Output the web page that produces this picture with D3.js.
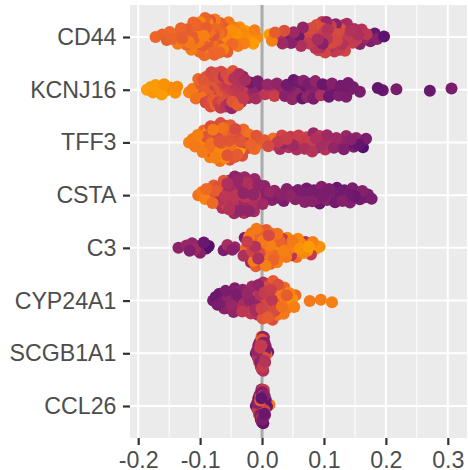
<!DOCTYPE html>
<html>
<head>
<meta charset="utf-8">
<script src="https://cdnjs.cloudflare.com/ajax/libs/d3/7.8.5/d3.min.js"></script>
<style>
  html, body { margin: 0; padding: 0; background: #fff; }
  svg { display: block; }
  text { font-family: "Liberation Sans", Arial, sans-serif; fill: #4d4d4d; }
</style>
</head>
<body>
<svg id="chart"></svg>
<script>
var genes = ['CD44', 'KCNJ16', 'TFF3', 'CSTA', 'C3', 'CYP24A1', 'SCGB1A1', 'CCL26'];
var xTicks = [-0.2, -0.1, 0, 0.1, 0.2, 0.3];
var xMinor = [-0.15, -0.05, 0.05, 0.15, 0.25];

// shap value of each cell
var shapCD44 = [
  -.172,-.161,-.154,-.149,-.146,-.139,-.136,-.131,-.129,-.124,
  -.122,-.121,-.118,-.115,-.114,-.111,-.110,-.108,-.107,-.105,
  -.104,-.102,-.101,-.100,-.099,-.098,-.097,-.096,-.095,-.094,
  -.093,-.092,-.091,-.090,-.089,-.088,-.087,-.086,-.085,-.084,
  -.083,-.082,-.081,-.080,-.079,-.078,-.077,-.076,-.075,-.074,
  -.073,-.072,-.071,-.070,-.069,-.068,-.066,-.065,-.063,-.061,
  -.060,-.058,-.056,-.054,-.052,-.050,-.048,-.045,-.043,-.041,
  -.039,-.036,-.035,-.032,-.029,-.027,-.024,-.019,-.014,-.012,
  -.008,.012,.016,.021,.026,.029,.033,.036,.039,.043,
  .047,.051,.055,.059,.063,.066,.069,.073,.076,.079,
  .082,.084,.086,.088,.090,.092,.094,.096,.098,.100,
  .102,.104,.105,.107,.109,.111,.113,.115,.117,.119,
  .121,.123,.125,.127,.129,.132,.134,.137,.140,.143,
  .146,.149,.152,.155,.158,.161,.165,.169,.175,.182,.186,.197,
  .091,.097,.103,.106,.110,.114,.118,.122,.126,.131,.135,.101
];
var featCD44 = [
  .65,.64,.63,.66,.64,.65,.70,.64,.63,.72,
  .66,.63,.70,.64,.71,.65,.63,.72,.66,.64,
  .70,.62,.65,.73,.66,.63,.70,.64,.61,.72,
  .66,.64,.70,.63,.65,.73,.62,.68,.64,.60,
  .70,.65,.63,.72,.66,.60,.64,.70,.62,.66,
  .73,.64,.61,.68,.65,.62,.70,.64,.72,.60,
  .66,.74,.63,.70,.62,.75,.66,.72,.63,.76,
  .70,.76,.66,.74,.72,.78,.74,.76,.78,.72,
  .74,.78,.72,.62,.60,.45,.40,.58,.42,.30,
  .34,.40,.56,.28,.44,.36,.52,.55,.50,.56,
  .30,.54,.47,.58,.42,.52,.44,.56,.34,.50,
  .54,.38,.48,.58,.45,.52,.56,.44,.50,.34,
  .55,.44,.52,.58,.46,.48,.54,.42,.50,.45,
  .52,.44,.50,.44,.34,.46,.38,.48,.32,.26,.34,.22,
  .54,.50,.56,.46,.52,.55,.48,.56,.50,.54,.46,.52
];

var shapKCNJ16 = [
  -.186,-.180,-.176,-.172,-.168,-.165,-.162,-.158,-.155,-.148,
  -.140,-.137,-.118,-.112,-.107,-.103,-.101,-.099,-.097,-.095,
  -.094,-.092,-.091,-.090,-.089,-.088,-.087,-.086,-.085,-.084,
  -.083,-.082,-.081,-.080,-.079,-.078,-.077,-.076,-.075,-.074,
  -.073,-.072,-.071,-.070,-.069,-.068,-.067,-.066,-.065,-.064,
  -.063,-.062,-.061,-.060,-.059,-.058,-.057,-.056,-.054,-.053,
  -.052,-.050,-.049,-.047,-.046,-.044,-.042,-.040,-.038,-.036,
  -.034,-.031,-.028,-.025,-.022,-.019,-.016,-.013,-.010,-.007,
  -.004,.001,.005,.009,.012,.016,.020,.024,.029,.033,
  .037,.040,.043,.046,.049,.051,.053,.055,.057,.059,
  .061,.063,.065,.067,.069,.071,.073,.075,.077,.080,
  .083,.086,.089,.092,.095,.098,.101,.104,.108,.113,
  .117,.120,.124,.127,.130,.133,.136,.139,.142,.147,
  .158,.187,.195,.217,.271,.306,
  -.055,-.051,-.048,-.045,-.043,-.041,-.039,-.037,-.035,-.033,-.030,-.027
];
var featKCNJ16 = [
  .78,.79,.77,.78,.76,.79,.78,.76,.77,.74,
  .76,.74,.72,.70,.68,.66,.70,.62,.68,.60,
  .58,.62,.55,.60,.58,.64,.56,.60,.54,.62,
  .58,.55,.60,.52,.62,.56,.58,.54,.64,.56,
  .50,.60,.54,.58,.52,.60,.50,.56,.62,.52,
  .58,.46,.60,.54,.48,.56,.62,.50,.44,.58,
  .46,.52,.38,.60,.46,.34,.50,.44,.54,.40,
  .48,.36,.44,.50,.40,.28,.46,.36,.42,.30,
  .46,.30,.48,.38,.28,.44,.52,.36,.30,.38,
  .34,.28,.40,.32,.36,.26,.34,.30,.37,.28,
  .33,.36,.25,.34,.31,.27,.36,.30,.26,.34,
  .30,.36,.28,.33,.44,.26,.34,.30,.27,.33,
  .30,.26,.32,.29,.33,.27,.31,.29,.32,.30,
  .30,.24,.26,.30,.26,.30,
  .56,.50,.60,.46,.54,.48,.62,.44,.52,.46,.50,.42
];

var shapTFF3 = [
  -.118,-.112,-.108,-.104,-.101,-.098,-.096,-.094,-.092,-.090,
  -.088,-.087,-.086,-.085,-.084,-.083,-.082,-.081,-.080,-.079,
  -.078,-.077,-.076,-.075,-.074,-.073,-.072,-.071,-.070,-.069,
  -.068,-.067,-.066,-.065,-.064,-.063,-.062,-.061,-.060,-.059,
  -.058,-.057,-.056,-.055,-.054,-.053,-.052,-.051,-.050,-.049,
  -.048,-.047,-.046,-.045,-.044,-.043,-.042,-.041,-.040,-.038,
  -.036,-.034,-.032,-.030,-.028,-.026,-.024,-.021,-.018,-.015,
  -.012,-.009,-.005,.004,.010,.018,.022,.026,.029,.032,
  .036,.040,.043,.046,.050,.053,.056,.059,.063,.066,
  .069,.072,.075,.078,.081,.083,.085,.087,.090,.093,
  .096,.099,.102,.105,.108,.112,.116,.120,.124,.128,
  .132,.136,.140,.144,.148,.152,.156,.160,.163,.168
];
var featTFF3 = [
  .72,.71,.70,.72,.68,.73,.70,.66,.72,.60,
  .70,.74,.68,.62,.72,.58,.68,.72,.60,.70,
  .56,.68,.72,.62,.66,.58,.70,.62,.74,.60,
  .68,.58,.62,.72,.60,.68,.56,.62,.74,.60,
  .58,.66,.60,.56,.72,.60,.58,.62,.68,.56,
  .60,.62,.58,.68,.60,.56,.64,.58,.62,.56,
  .80,.60,.58,.66,.56,.64,.58,.68,.64,.60,
  .66,.60,.64,.62,.56,.68,.46,.50,.42,.54,
  .38,.52,.46,.50,.40,.54,.44,.52,.40,.50,
  .44,.54,.42,.52,.46,.38,.50,.44,.36,.48,
  .42,.34,.46,.40,.32,.44,.36,.40,.30,.36,
  .32,.38,.26,.34,.30,.36,.24,.28,.20,.30
];

var shapCSTA = [
  -.103,-.097,-.092,-.090,-.086,-.083,-.080,-.078,-.076,-.074,
  -.072,-.070,-.068,-.066,-.064,-.062,-.060,-.059,-.058,-.056,
  -.055,-.054,-.053,-.052,-.051,-.050,-.049,-.048,-.047,-.046,
  -.045,-.044,-.043,-.042,-.041,-.040,-.039,-.038,-.037,-.036,
  -.035,-.034,-.033,-.032,-.031,-.030,-.029,-.028,-.027,-.026,
  -.025,-.024,-.023,-.022,-.021,-.020,-.019,-.018,-.017,-.016,
  -.015,-.014,-.013,-.012,-.011,-.010,-.008,-.006,-.004,-.002,
  .001,.004,.008,.012,.016,.020,.026,.030,.035,.040,
  .045,.050,.054,.058,.062,.066,.069,.072,.075,.078,
  .081,.084,.087,.090,.093,.096,.099,.102,.105,.108,
  .112,.115,.118,.121,.124,.127,.130,.133,.136,.139,
  .142,.146,.150,.154,.158,.162,.166,.171,.177
];
var featCSTA = [
  .68,.70,.72,.66,.70,.60,.66,.62,.56,.62,
  .50,.58,.46,.54,.44,.60,.48,.38,.52,.44,
  .56,.40,.46,.36,.50,.42,.58,.38,.46,.54,
  .40,.36,.48,.42,.60,.38,.44,.50,.36,.42,
  .46,.38,.44,.52,.40,.36,.44,.38,.48,.42,
  .36,.44,.40,.50,.36,.42,.38,.46,.34,.40,
  .44,.36,.42,.38,.46,.34,.40,.36,.42,.34,
  .40,.36,.32,.38,.34,.36,.32,.35,.30,.33,
  .36,.30,.34,.31,.35,.30,.34,.28,.33,.30,
  .34,.29,.33,.30,.27,.33,.30,.28,.34,.30,
  .27,.32,.29,.25,.31,.28,.33,.26,.31,.28,
  .32,.30,.27,.32,.29,.33,.30,.31,.30
];

var shapC3 = [
  -.135,-.122,-.117,-.113,-.108,-.103,-.100,-.094,-.090,-.086,
  -.062,-.056,-.048,-.044,-.030,-.028,-.026,-.024,-.022,-.021,
  -.020,-.019,-.018,-.017,-.016,-.015,-.014,-.013,-.012,-.011,
  -.010,-.009,-.008,-.007,-.006,-.005,-.004,-.003,-.002,-.001,
  .000,.001,.002,.003,.004,.005,.006,.007,.008,.009,
  .010,.011,.012,.013,.014,.015,.016,.017,.018,.019,
  .020,.022,.024,.025,.027,.029,.031,.033,.035,.037,
  .039,.041,.043,.045,.047,.049,.051,.053,.056,.058,
  .061,.064,.067,.070,.073,.076,.079,.082,.086,.093
];
var featC3 = [
  .34,.38,.32,.36,.40,.28,.33,.26,.22,.20,
  .30,.42,.34,.38,.44,.30,.66,.52,.36,.70,
  .56,.64,.40,.68,.54,.60,.70,.50,.66,.46,
  .62,.70,.56,.64,.44,.68,.58,.72,.60,.66,
  .52,.70,.58,.64,.68,.56,.72,.62,.68,.60,
  .70,.56,.66,.72,.62,.68,.58,.72,.64,.70,
  .66,.60,.72,.68,.74,.64,.70,.50,.72,.66,
  .70,.74,.68,.72,.48,.70,.76,.72,.68,.74,
  .76,.72,.74,.46,.76,.78,.50,.72,.78,.76
];

var shapCYP24A1 = [
  -.079,-.075,-.072,-.069,-.066,-.064,-.061,-.059,-.057,-.055,
  -.053,-.051,-.049,-.047,-.046,-.044,-.042,-.041,-.039,-.037,
  -.036,-.034,-.032,-.031,-.029,-.027,-.026,-.024,-.022,-.020,
  -.018,-.016,-.014,-.012,-.011,-.010,-.009,-.008,-.007,-.006,
  -.005,-.004,-.003,-.002,-.001,.000,.001,.002,.003,.004,
  .005,.006,.007,.008,.009,.010,.011,.012,.013,.014,
  .015,.016,.017,.018,.019,.020,.021,.022,.023,.024,
  .025,.026,.027,.028,.029,.030,.032,.033,.035,.036,
  .038,.040,.042,.044,.046,.049,.052,.054,.077,.095,.113
];
var featCYP24A1 = [
  .28,.26,.30,.27,.32,.28,.34,.30,.26,.36,
  .30,.34,.38,.28,.36,.32,.46,.30,.38,.34,
  .42,.30,.48,.36,.42,.34,.50,.38,.44,.36,
  .48,.40,.46,.62,.42,.50,.38,.54,.44,.36,
  .52,.46,.58,.42,.54,.48,.60,.44,.56,.50,
  .40,.58,.46,.54,.62,.50,.56,.44,.60,.52,
  .64,.48,.58,.62,.52,.66,.56,.60,.64,.54,
  .68,.58,.62,.70,.56,.64,.68,.60,.70,.66,
  .72,.62,.68,.74,.70,.76,.72,.66,.70,.71,.72
];

var shapSCGB1A1 = [
  -.010,-.008,-.007,-.006,-.006,-.005,-.005,-.004,-.004,-.003,
  -.003,-.003,-.002,-.002,-.002,-.001,-.001,-.001,.000,.000,
  .000,.000,.000,.001,.001,.001,.001,.002,.002,.002,
  .002,.003,.003,.003,.004,.004,.004,.005,.005,.006,.007,.010
];
var featSCGB1A1 = [
  .28,.36,.44,.30,.50,.32,.62,.40,.26,.52,
  .34,.46,.30,.56,.42,.66,.28,.50,.36,.60,
  .34,.46,.54,.30,.64,.40,.50,.34,.60,.30,
  .44,.36,.52,.26,.46,.34,.58,.30,.42,.36,.62,.28
];

var shapCCL26 = [
  -.010,-.008,-.007,-.006,-.006,-.005,-.005,-.004,-.004,-.003,
  -.003,-.003,-.002,-.002,-.002,-.001,-.001,-.001,.000,.000,
  .000,.000,.000,.001,.001,.001,.001,.002,.002,.002,
  .002,.003,.003,.003,.004,.004,.004,.005,.005,.006,.008,.012
];
var featCCL26 = [
  .24,.34,.50,.26,.44,.30,.60,.36,.24,.62,
  .32,.54,.26,.40,.28,.34,.58,.24,.46,.30,
  .60,.26,.38,.52,.24,.44,.30,.56,.26,.36,
  .24,.50,.30,.42,.26,.34,.54,.24,.38,.28,.26,.70
];

var shapByGene = [shapCD44, shapKCNJ16, shapTFF3, shapCSTA, shapC3, shapCYP24A1, shapSCGB1A1, shapCCL26];
var featByGene = [featCD44, featKCNJ16, featTFF3, featCSTA, featC3, featCYP24A1, featSCGB1A1, featCCL26];

var width = 468, height = 470;
var left = 130, right = 467, top_ = 5, bottom = 438;
var radius = 6, maxOffset = 20;

var svg = d3.select('#chart').attr('width', width).attr('height', height);

var x = d3.scaleLinear().domain([-0.2, 0.3]).range([138.2, 447.8]);
var y = d3.scalePoint().domain(genes).range([37, 406]);
var colour = d3.scaleLinear().domain([0, 1]).range([0.06, 0.98]);

svg.append('rect')
  .attr('x', left).attr('y', top_)
  .attr('width', right - left).attr('height', bottom - top_)
  .attr('fill', '#ebebeb');

// grid
svg.selectAll('.minor').data(xMinor).enter().append('line')
  .attr('x1', x).attr('x2', x).attr('y1', top_).attr('y2', bottom)
  .attr('stroke', '#fff').attr('stroke-width', 1);
svg.selectAll('.major').data(xTicks).enter().append('line')
  .attr('x1', x).attr('x2', x).attr('y1', top_).attr('y2', bottom)
  .attr('stroke', '#fff').attr('stroke-width', 2);
svg.selectAll('.row').data(genes).enter().append('line')
  .attr('x1', left).attr('x2', right).attr('y1', y).attr('y2', y)
  .attr('stroke', '#fff').attr('stroke-width', 2);

svg.append('line')
  .attr('x1', x(0)).attr('x2', x(0)).attr('y1', top_).attr('y2', bottom)
  .attr('stroke', '#aaa').attr('stroke-width', 3);

function vanDerCorput(n){
  var v = 0, f = 0.5;
  while(n > 0){
    v += f * (n % 2);
    n = Math.floor(n / 2);
    f /= 2;
  }
  return v;
}

// quasirandom offsets, the spread follows the local density of each row
function quasirandom(values){
  var sd = d3.deviation(values);
  var sorted = values.slice().sort(d3.ascending);
  var iqr = d3.quantile(sorted, 0.75) - d3.quantile(sorted, 0.25);
  var bw = 0.5 * 0.9 * Math.min(sd, iqr / 1.34) * Math.pow(values.length, -0.2);
  var dens = values.map(function(v){
    return d3.sum(values, function(w){
      var u = (v - w) / bw;
      return Math.exp(-0.5 * u * u);
    });
  });
  var top = d3.max(dens);
  return values.map(function(v, i){
    return (2 * vanDerCorput(i + 1) - 1) * maxOffset * Math.pow(dens[i] / top, 0.75);
  });
}

genes.forEach(function(gene, g){
  var shap = shapByGene[g], feat = featByGene[g];
  var off = quasirandom(shap);
  // mix the draw order, points are plotted in cell order and not by value
  var order = d3.range(shap.length).sort(function(a, b){
    return (a * 37) % shap.length - (b * 37) % shap.length;
  });
  svg.append('g').selectAll('circle').data(order).enter().append('circle')
    .attr('cx', function(i){ return x(shap[i]); })
    .attr('cy', function(i){ return y(gene) + off[i]; })
    .attr('r', radius)
    .attr('fill', function(i){ return d3.interpolateInferno(colour(feat[i])); });
});

// axes
var xAxis = svg.append('g').attr('transform', 'translate(0,' + bottom + ')')
  .call(d3.axisBottom(x).tickValues(xTicks).tickSize(7).tickPadding(7).tickFormat(d3.format('.1f')));
var yAxis = svg.append('g').attr('transform', 'translate(' + left + ',0)')
  .call(d3.axisLeft(y).tickSize(7).tickPadding(6.5));

[xAxis, yAxis].forEach(function(a){
  a.select('.domain').remove();
  a.selectAll('.tick line').attr('stroke', '#333').attr('stroke-width', 2.2);
  a.selectAll('.tick text').attr('fill', '#4d4d4d').style('font-size', '23.2px')
    .style('font-family', '"Liberation Sans", Arial, sans-serif');
});
xAxis.selectAll('.tick text').text(function(d){ return d3.format('.1f')(d).replace('\u2212', '-'); });
</script>
</body>
</html>
